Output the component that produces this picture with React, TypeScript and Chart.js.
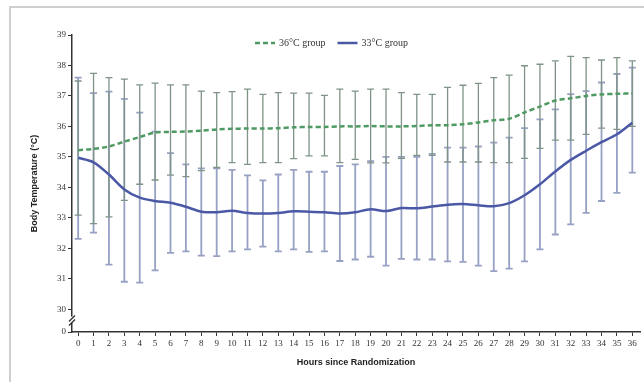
import React, { useEffect, useRef } from "react";
import { Chart, registerables } from "chart.js";

Chart.register(...registerables);

// ---------- data ----------
const hours = [0,1,2,3,4,5,6,7,8,9,10,11,12,13,14,15,16,17,18,19,20,21,22,23,24,25,26,27,28,29,30,31,32,33,34,35,36];

const yTickValues = [29.25, 30, 31, 32, 33, 34, 35, 36, 37, 38, 39];
const yTickLabels = ["0", "30", "31", "32", "33", "34", "35", "36", "37", "38", "39"];

const seriesLabels = ["36°C group", "33°C group"];

const mean36 = [35.22, 35.26, 35.34, 35.5, 35.65, 35.8, 35.82, 35.83, 35.86, 35.9, 35.92, 35.93, 35.93, 35.94, 35.97, 35.98, 35.98, 36.0, 36.0, 36.01, 36.0, 36.0, 36.01, 36.04, 36.04, 36.07, 36.13, 36.2, 36.25, 36.46, 36.65, 36.85, 36.92, 37.0, 37.05, 37.07, 37.08];
const upper36 = [37.49, 37.74, 37.6, 37.55, 37.36, 37.42, 37.36, 37.36, 37.16, 37.11, 37.14, 37.22, 37.05, 37.11, 37.09, 37.09, 37.02, 37.22, 37.16, 37.22, 37.22, 37.11, 37.05, 37.05, 37.28, 37.35, 37.41, 37.6, 37.68, 37.99, 38.04, 38.15, 38.3, 38.26, 38.18, 38.26, 38.15];
const lower36 = [33.09, 32.81, 33.03, 33.57, 34.1, 34.24, 34.4, 34.35, 34.55, 34.65, 34.81, 34.75, 34.81, 34.81, 34.94, 35.03, 35.03, 34.81, 34.92, 34.8, 34.8, 34.95, 35.05, 35.05, 34.83, 34.83, 34.83, 34.81, 34.81, 34.95, 35.28, 35.55, 35.55, 35.74, 35.94, 35.9, 36.0];

const mean33 = [34.97, 34.82, 34.42, 33.93, 33.66, 33.55, 33.49, 33.36, 33.2, 33.18, 33.23, 33.16, 33.14, 33.16, 33.21, 33.2, 33.18, 33.14, 33.18, 33.28, 33.22, 33.32, 33.31, 33.37, 33.43, 33.45, 33.41, 33.38, 33.48, 33.74, 34.1, 34.52, 34.9, 35.2, 35.48, 35.74, 36.12];
const upper33 = [37.6, 37.09, 37.14, 36.9, 36.45, 35.83, 35.12, 34.75, 34.62, 34.62, 34.57, 34.39, 34.23, 34.42, 34.57, 34.51, 34.51, 34.7, 34.75, 34.86, 35.0, 35.0, 35.0, 35.1, 35.3, 35.3, 35.34, 35.47, 35.63, 35.94, 36.23, 36.56, 37.06, 37.16, 37.44, 37.72, 37.93];
const lower33 = [32.31, 32.51, 31.46, 30.9, 30.87, 31.27, 31.85, 31.9, 31.76, 31.74, 31.9, 31.96, 32.05, 31.9, 31.96, 31.88, 31.9, 31.58, 31.63, 31.72, 31.43, 31.65, 31.63, 31.63, 31.57, 31.55, 31.43, 31.25, 31.33, 31.57, 31.96, 32.45, 32.78, 33.16, 33.55, 33.82, 34.48];

// ---------- styles ----------
const GREEN = "#4f9a63";
const BLUE = "#4a58a6";
const GREEN_ERR = "#7f9487";
const BLUE_ERR = "#97a1c4";
const AXIS = "#333333";

const errorBarPlugin = {
  id: "errorBars",
  beforeDatasetsDraw(chart: any) {
    const { ctx } = chart;
    const xs = chart.scales.x;
    const ys = chart.scales.y;
    const order = [1, 0];
    order.forEach((i) => {
      const ds: any = chart.data.datasets[i];
      if (!ds.errUpper) return;
      ctx.save();
      ctx.strokeStyle = ds.errColor;
      ctx.lineWidth = ds.errWidth;
      ctx.setLineDash([]);
      ds.data.forEach((p: any, k: number) => {
        const px = xs.getPixelForValue(p.x);
        const top = ys.getPixelForValue(ds.errUpper[k]);
        const bot = ys.getPixelForValue(ds.errLower[k]);
        ctx.beginPath();
        ctx.moveTo(px, top);
        ctx.lineTo(px, bot);
        ctx.moveTo(px - 3.5, top);
        ctx.lineTo(px + 3.5, top);
        ctx.moveTo(px - 3.5, bot);
        ctx.lineTo(px + 3.5, bot);
        ctx.stroke();
      });
      ctx.restore();
    });
  },
  afterDraw(chart: any) {
    const { ctx } = chart;
    const ys = chart.scales.y;
    const xs = chart.scales.x;
    // axis break marks
    const by = ys.getPixelForValue((yTickValues[0] + yTickValues[1]) / 2);
    const ax = xs.left;
    ctx.save();
    ctx.fillStyle = "#ffffff";
    ctx.fillRect(ax - 3, by - 4, 6, 6);
    ctx.strokeStyle = AXIS;
    ctx.lineWidth = 1.3;
    ctx.beginPath();
    ctx.moveTo(ax - 3, by + 1);
    ctx.lineTo(ax + 3, by - 5);
    ctx.moveTo(ax - 3, by + 5);
    ctx.lineTo(ax + 3, by - 1);
    ctx.stroke();
    ctx.restore();

    // legend
    const lx = 255;
    const ly = 43;
    ctx.save();
    ctx.font = "10px 'Liberation Serif'";
    ctx.textBaseline = "middle";
    ctx.fillStyle = "#333";
    let cx = lx;
    chart.data.datasets.forEach((ds: any) => {
      ctx.strokeStyle = ds.borderColor;
      ctx.lineWidth = 2.5;
      ctx.setLineDash(ds.borderDash || []);
      ctx.beginPath();
      ctx.moveTo(cx, ly);
      ctx.lineTo(cx + 20, ly);
      ctx.stroke();
      ctx.setLineDash([]);
      ctx.fillText(ds.label, cx + 24, ly);
      cx += 24 + ctx.measureText(ds.label).width + 12;
    });
    ctx.restore();
  },
};

export default function App() {
  const ref = useRef<HTMLCanvasElement>(null);

  useEffect(() => {
    document.body.style.margin = "0";
    const canvas = ref.current;
    if (!canvas) return;
    const toPts = (arr: number[]) => arr.map((v, i) => ({ x: hours[i], y: v }));
    const chart = new Chart(canvas, {
      type: "line",
      data: {
        datasets: [
          {
            label: seriesLabels[0],
            data: toPts(mean36),
            borderColor: GREEN,
            backgroundColor: GREEN,
            borderWidth: 2.5,
            borderDash: [5, 3],
            pointRadius: 0,
            tension: 0.3,
            errUpper: upper36,
            errLower: lower36,
            errColor: GREEN_ERR,
            errWidth: 1.3,
          } as any,
          {
            label: seriesLabels[1],
            data: toPts(mean33),
            borderColor: BLUE,
            backgroundColor: BLUE,
            borderWidth: 2.5,
            pointRadius: 0,
            tension: 0.3,
            errUpper: upper33,
            errLower: lower33,
            errColor: BLUE_ERR,
            errWidth: 1.8,
          } as any,
        ],
      },
      options: {
        animation: false,
        responsive: false,
        maintainAspectRatio: false,
        layout: { padding: { left: 0, right: 4, top: 35, bottom: 10 } },
        plugins: {
          legend: { display: false },
          tooltip: { enabled: false },
        },
        scales: {
          x: {
            type: "linear",
            min: -0.4,
            max: 36.5,
            afterBuildTicks: (s: any) => {
              s.ticks = hours.map((h) => ({ value: h }));
            },
            afterFit: (s: any) => {
              s.height = 40;
            },
            ticks: {
              autoSkip: false,
              maxRotation: 0,
              padding: 2,
              color: "#333",
              font: { family: "'Liberation Serif'", size: 9 },
              callback: (v: any) => String(v),
            },
            grid: {
              display: true,
              drawOnChartArea: false,
              drawTicks: true,
              tickLength: 4,
              color: AXIS,
              lineWidth: 1,
            },
            border: { display: true, color: AXIS, width: 1.5 },
            title: {
              display: true,
              text: "Hours since Randomization",
              color: "#222",
              font: { family: "'Liberation Sans'", size: 9, weight: "bold" },
              padding: { top: 0, bottom: 4 },
            },
          },
          y: {
            type: "linear",
            min: yTickValues[0],
            max: 39,
            afterBuildTicks: (s: any) => {
              s.ticks = yTickValues.map((v) => ({ value: v }));
            },
            afterFit: (s: any) => {
              s.width = 72;
            },
            ticks: {
              autoSkip: false,
              padding: 2,
              color: "#333",
              font: { family: "'Liberation Serif'", size: 9 },
              callback: (v: any) => {
                const idx = yTickValues.indexOf(Number(v));
                return idx >= 0 ? yTickLabels[idx] : "";
              },
            },
            grid: {
              display: true,
              drawOnChartArea: false,
              drawTicks: true,
              tickLength: 4,
              color: AXIS,
              lineWidth: 1,
            },
            border: { display: true, color: AXIS, width: 1.5 },
            title: {
              display: true,
              text: "Body Temperature (°C)",
              color: "#222",
              font: { family: "'Liberation Sans'", size: 9, weight: "bold" },
              padding: { top: 29, bottom: 0 },
            },
          },
        },
      },
      plugins: [errorBarPlugin],
    });
    return () => chart.destroy();
  }, []);

  return (
    <div style={{ position: "relative", width: 644, height: 382, overflow: "hidden", background: "#fff" }}>
      <div
        style={{
          position: "absolute",
          left: 9,
          top: 6,
          width: 700,
          height: 400,
          border: "2px solid #cfcfcf",
          boxSizing: "border-box",
        }}
      />
      <canvas ref={ref} width={644} height={382} style={{ position: "absolute", left: 0, top: 0 }} />
    </div>
  );
}
